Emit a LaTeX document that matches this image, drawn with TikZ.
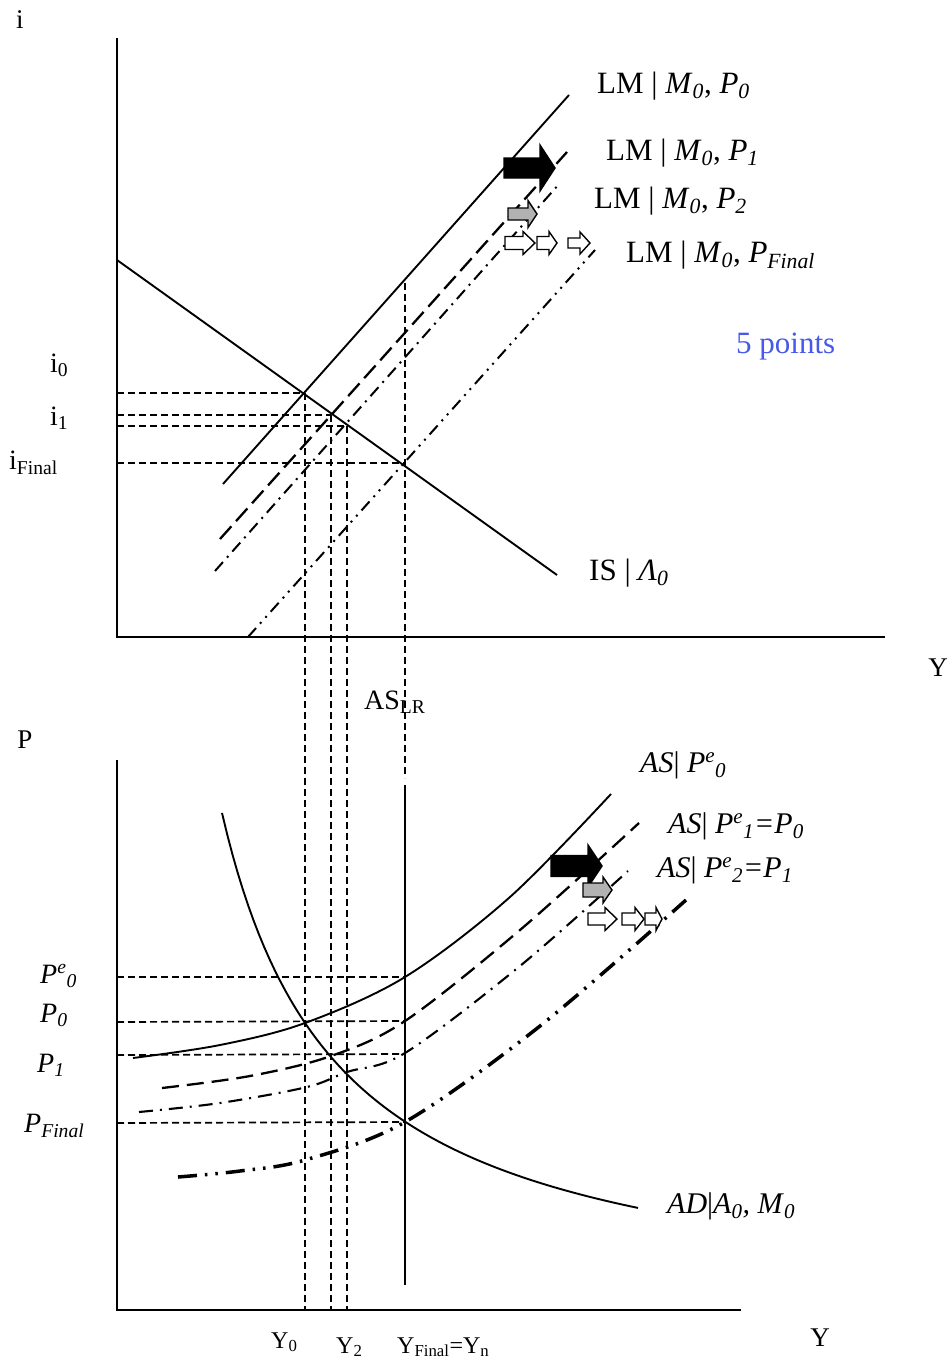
\documentclass[tikz,border=0pt]{standalone}
\usepackage{fontspec}
\setmainfont{Liberation Serif}
\newcommand{\blockarrow}[7]{%
  \filldraw[fill=#7, draw=black, line width=1.4pt, line join=miter]
    (#1,#4-#5) -- (#2,#4-#5) -- (#2,#4-#6) -- (#3,#4) -- (#2,#4+#6) -- (#2,#4+#5) -- (#1,#4+#5) -- cycle;}
\begin{document}
\begin{tikzpicture}[x=1pt,y=-1pt,
  axis/.style={line width=2.2pt},
  curve/.style={line width=1.9pt},
  guide/.style={line width=1.7pt, dash pattern=on 7pt off 4pt},
  lmone/.style={line width=2.3pt, dash pattern=on 17pt off 7pt},
  lmtwo/.style={line width=2pt, dash pattern=on 12pt off 6pt on 2pt off 6pt},
  lmfin/.style={line width=2pt, dash pattern=on 12pt off 6pt on 2pt off 6pt on 2pt off 6pt},
  asone/.style={line width=2.3pt, dash pattern=on 17pt off 8pt},
  astwo/.style={line width=2.1pt, dash pattern=on 14pt off 7pt on 2pt off 7pt},
  asfin/.style={line width=3.5pt, dash pattern=on 19pt off 8pt on 2.5pt off 8pt on 2.5pt off 8pt},
  lbl/.style={inner sep=0pt, anchor=base west, font=\fontsize{31}{36}\selectfont},
  alb/.style={inner sep=0pt, anchor=base west, font=\fontsize{30}{36}\selectfont},
  slbl/.style={inner sep=0pt, anchor=base west, font=\fontsize{28}{32}\selectfont},
  xlbl/.style={inner sep=0pt, anchor=base west, font=\fontsize{24}{28}\selectfont},
  axlbl/.style={inner sep=0pt, font=\fontsize{27}{30}\selectfont}]
\useasboundingbox (0,0) rectangle (952,1365);

% ---------- top panel ----------
\coordinate (iTop) at (117,38);
\coordinate (iOrig) at (117,637);
\coordinate (iEnd) at (885,637);
\draw[axis] (iTop) -- (iOrig) -- (iEnd);

\coordinate (E0) at (303,393);
\coordinate (E1) at (331,415);
\coordinate (E2) at (347,426);
\coordinate (EF) at (405,463);

% guides top
\draw[guide] (117,393) -- (E0);
\draw[guide] (117,415) -- (E1);
\draw[guide] (117,426) -- (E2);
\draw[guide] (117,463) -- (EF);
\draw[guide] (305,393) -- (305,1310);
\draw[guide] (331,415) -- (331,1310);
\draw[guide] (347,426) -- (347,1310);
\draw[guide] (405,283) -- (405,778);

% IS and LM curves
\coordinate (ISa) at (117,260); \coordinate (ISb) at (557,575);
\draw[curve] (ISa) -- (ISb);
\coordinate (L0a) at (223,484); \coordinate (L0b) at (569,95);
\draw[curve] (L0a) -- (L0b);
\coordinate (L1a) at (220,539); \coordinate (L1b) at (567,152);
\draw[lmone] (L1a) -- (L1b);
\coordinate (L2a) at (215,571); \coordinate (L2b) at (560,183);
\draw[lmtwo] (L2a) -- (L2b);
\coordinate (LFa) at (248,637); \coordinate (LFb) at (595,250);
\draw[lmfin] (LFa) -- (LFb);

% shift arrows top
\blockarrow{504}{540}{555}{168}{10}{23}{black}
\blockarrow{508}{528}{537}{214}{6}{13.5}{gray!60}
\blockarrow{505}{523}{535}{243}{6.5}{11.5}{white}
\blockarrow{537}{549}{557}{243}{6.5}{11.5}{white}
\blockarrow{568}{580}{590}{243}{5}{11}{white}

% top labels
\node[axlbl] (li) at (20,20) {i};
\node[axlbl] (lYt) at (938,668) {Y};
\node[lbl] (lm0) at (597,93) {LM | \textit{M}\textsubscript{\textit{0}}, \textit{P}\textsubscript{\textit{0}}};
\node[lbl] (lm1) at (606,160) {LM | \textit{M}\textsubscript{\textit{0}}, \textit{P}\textsubscript{\textit{1}}};
\node[lbl] (lm2) at (594,208) {LM | \textit{M}\textsubscript{\textit{0}}, \textit{P}\textsubscript{\textit{2}}};
\node[lbl] (lmf) at (626,262) {LM | \textit{M}\textsubscript{\textit{0}}, \textit{P}\textsubscript{\textit{Final}}};
\node[lbl, text={rgb,255:red,72;green,88;blue,232}] (pts) at (736,353) {5 points};
\node[lbl] (lis) at (589,580) {IS | \textit{Λ}\textsubscript{\textit{0}}};
\node[slbl] (li0) at (50,372) {i\textsubscript{0}};
\node[slbl] (li1) at (50,425) {i\textsubscript{1}};
\node[slbl] (lif) at (9,469) {i\textsubscript{Final}};
\node[slbl] (laslr) at (364,709) {AS\textsubscript{LR}};

% ---------- bottom panel ----------
\coordinate (pTop) at (117,760);
\coordinate (pOrig) at (117,1310);
\coordinate (pEnd) at (741,1310);
\draw[axis] (pTop) -- (pOrig) -- (pEnd);
\coordinate (LRa) at (405,785); \coordinate (LRb) at (405,1285);
\draw[curve] (LRa) -- (LRb);

\draw[guide] (117,977) -- (405,977);
\draw[guide] (117,1022) -- (405,1021);
\draw[guide] (117,1055) -- (405,1054);
\draw[guide] (117,1123) -- (405,1122);

% AD curve
\draw[curve] plot[domain=222:638, samples=80] (\x, {1319 - 100*(592.11/(\x-105))});
% AS curves
\draw[curve] plot[smooth, tension=0.55] coordinates {(133,1058) (220,1045) (305,1023) (405,977) (510,897) (611,794)};
\draw[asone] plot[smooth, tension=0.55] coordinates {(162,1088) (250,1076) (331,1056) (405,1021) (520,930) (639,823)};
\draw[astwo] plot[smooth, tension=0.55] coordinates {(139,1112) (220,1103) (307,1087) (347,1072) (405,1053) (520,966) (628,871)};
\draw[asfin] plot[smooth, tension=0.55] coordinates {(178,1177) (240,1171) (305,1160) (405,1122) (540,1026) (686,900)};

% shift arrows bottom
\blockarrow{551}{588}{602}{866}{10.5}{21}{black}
\blockarrow{583}{603}{612}{890}{7}{13}{gray!60}
\blockarrow{588}{605}{617}{919}{6}{11.5}{white}
\blockarrow{622}{635}{644}{919}{6}{11.5}{white}
\blockarrow{645}{656}{662}{919}{6}{11.5}{white}

% bottom labels
\node[axlbl] (lP) at (25,740) {P};
\node[axlbl] (lYb) at (820,1338) {Y};
\node[alb] (as0) at (640,772) {\textit{AS}| \textit{P}\textsuperscript{\textit{e}}\textsubscript{\textit{0}}};
\node[alb] (as1) at (668,833) {\textit{AS}| \textit{P}\textsuperscript{\textit{e}}\textsubscript{\textit{1}}\textit{=P}\textsubscript{\textit{0}}};
\node[alb] (as2) at (657,877) {\textit{AS}| \textit{P}\textsuperscript{\textit{e}}\textsubscript{\textit{2}}\textit{=P}\textsubscript{\textit{1}}};
\node[alb] (ad) at (667,1213) {\textit{AD}|\textit{A}\textsubscript{\textit{0}}\textit{, M}\textsubscript{\textit{0}}};
\node[slbl] (lpe0) at (40,983) {\textit{P}\textsuperscript{\textit{e}}\textsubscript{\textit{0}}};
\node[slbl] (lp0) at (40,1022) {\textit{P}\textsubscript{\textit{0}}};
\node[slbl] (lp1) at (37,1072) {\textit{P}\textsubscript{\textit{1}}};
\node[slbl] (lpf) at (24,1132) {\textit{P}\textsubscript{\textit{Final}}};
\node[xlbl] (ly0) at (271,1348) {Y\textsubscript{0}};
\node[xlbl] (ly2) at (336,1353) {Y\textsubscript{2}};
\node[xlbl] (lyf) at (397,1353) {Y\textsubscript{Final}=Y\textsubscript{n}};
\end{tikzpicture}
\end{document}
